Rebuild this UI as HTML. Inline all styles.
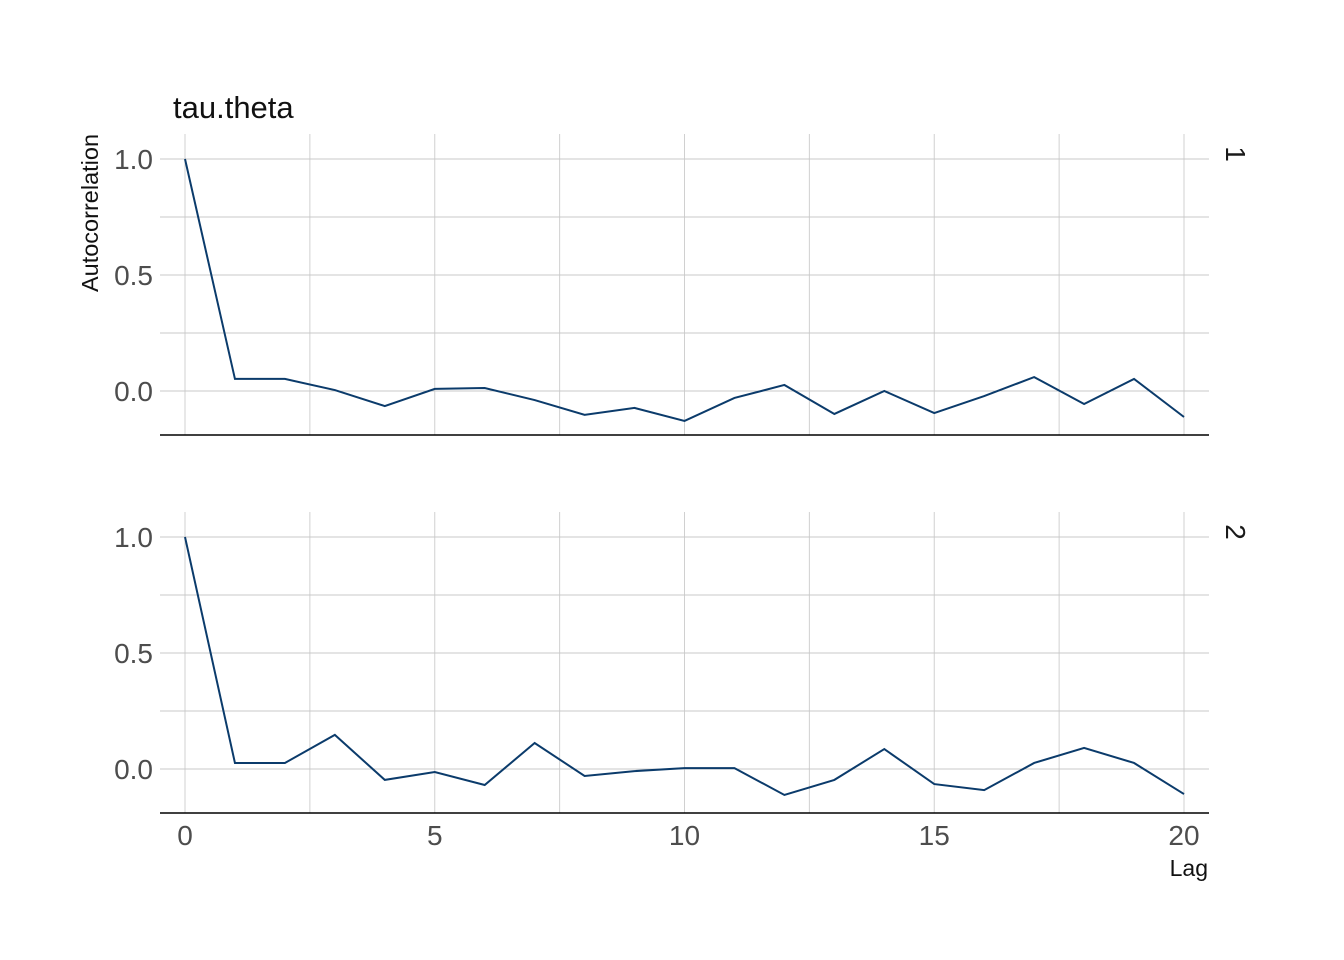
<!DOCTYPE html>
<html><head><meta charset="utf-8"><style>
body{margin:0;background:#fff;}
svg{display:block;font-family:"Liberation Sans",sans-serif;}
</style></head><body>
<svg id="c" width="1344" height="960"></svg>
<script>
const lags=[0,1,2,3,4,5,6,7,8,9,10,11,12,13,14,15,16,17,18,19,20];
const chain1=[1,0.052,0.052,0.004,-0.065,0.009,0.013,-0.039,-0.103,-0.073,-0.129,-0.030,0.026,-0.099,0,-0.095,-0.022,0.060,-0.056,0.052,-0.112];
const chain2=[1,0.026,0.026,0.147,-0.047,-0.013,-0.069,0.112,-0.030,-0.009,0.004,0.004,-0.112,-0.047,0.086,-0.065,-0.091,0.026,0.091,0.026,-0.108];
const xTicks=[0,5,10,15,20];
const yTicks=[0,0.5,1.0];
const yTickLabels=["0.0","0.5","1.0"];
const chainLabels=["1","2"];
const NS="http://www.w3.org/2000/svg";
const svg=document.getElementById('c');
function mk(t,a,p){const e=document.createElementNS(NS,t);for(const k in a)e.setAttribute(k,a[k]);(p||svg).appendChild(e);return e;}
const L=160,R=1209;
const x=v=>185+v*(1184-185)/20;
const panels=[{top:134,bot:435,zero:391,series:chain1},{top:512,bot:813,zero:769,series:chain2}];
const ys=232;
panels.forEach((p,i)=>{
  const y=v=>p.zero-v*ys;
  const g=mk('g',{});
  
  
  for(let v=-2.5;v<=22.5;v+=2.5){const xx=x(v);if(xx<L||xx>R)continue;
    const l=mk('line',{x1:xx,x2:xx,y1:p.top,y2:p.bot,stroke:'#d0d0d0','stroke-width':1},g);
    }
  for(let v=-0.25;v<=1.0001;v+=0.25){const yy=y(v);if(yy<p.top||yy>p.bot)continue;
    const l=mk('line',{x1:L,x2:R,y1:yy,y2:yy,stroke:'#c8c8c8','stroke-width':1},g);
    }
  yTicks.forEach((v,k)=>{const t=mk('text',{x:153,y:y(v)+10,'text-anchor':'end','font-size':28,fill:'#4d4d4d'},g);t.textContent=yTickLabels[k];
    });
  const ax=mk('line',{x1:L,x2:R,y1:p.bot,y2:p.bot,stroke:'#000','stroke-width':1.5},g);
  
  const pts=lags.map((l,k)=>x(l)+','+y(p.series[k])).join(' ');
  const pl=mk('polyline',{points:pts,fill:'none',stroke:'#0b3b6b','stroke-width':2},g);
  
  const st=mk('text',{x:0,y:0,'font-size':28,fill:'#1a1a1a','text-anchor':'middle',transform:`translate(1226,${p.top+20}) rotate(90)`},g);
  st.textContent=chainLabels[i];
  
});
xTicks.forEach(v=>{const t=mk('text',{x:x(v),y:845,'text-anchor':'middle','font-size':28,fill:'#4d4d4d'});t.textContent=v;
  });
let t=mk('text',{x:173,y:118,'font-size':31,fill:'#111'});t.textContent='tau.theta';

t=mk('text',{x:0,y:0,'font-size':23.5,fill:'#111','text-anchor':'middle',transform:'translate(98,213) rotate(-90)'});t.textContent='Autocorrelation';

t=mk('text',{x:1208,y:876,'font-size':23,fill:'#111','text-anchor':'end'});t.textContent='Lag';

</script>
</body></html>
